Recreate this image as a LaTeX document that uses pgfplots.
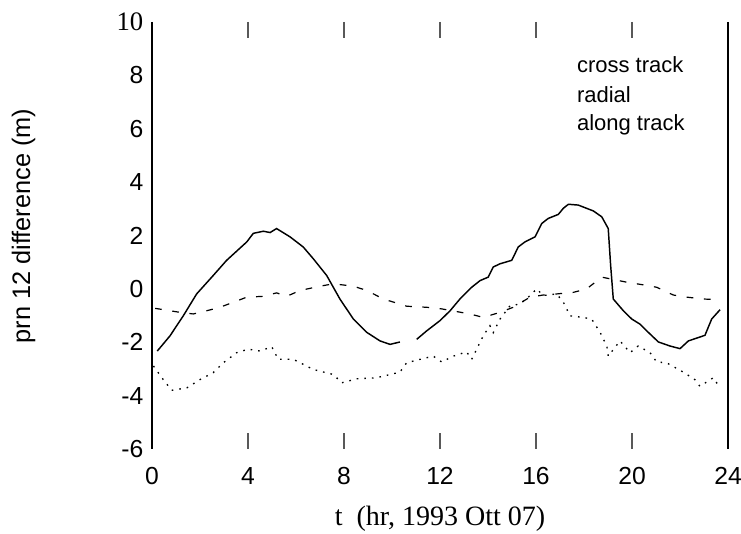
\documentclass[border=0pt]{standalone}
\usepackage{fontspec}
\setmainfont{Liberation Sans}
\newfontfamily\serif{Liberation Serif}
\usepackage{pgfplots}
\pgfplotsset{compat=1.18}

\begin{document}
\begin{tikzpicture}
\useasboundingbox (-114pt,-63.75pt) rectangle (441.75pt,336.75pt);
\begin{axis}[
  at={(0,0)}, anchor=south west,
  scale only axis, width=432pt, height=320.25pt,
  xmin=0, xmax=24, ymin=-6, ymax=10,
  xtick={0,4,...,24}, ytick={-6,-4,...,10},
  yticklabels={-6,-4,-2,0,2,4,6,8,{\serif\fontsize{20}{22}\selectfont 10}},
  separate axis lines,
  x axis line style={draw=none},
  y axis line style={black, line width=0.9pt},
  tick align=inside, major tick length=12pt,
  xtick pos=both, ytick pos=left,
  xtick style={gray!70!black, line width=0.8pt},
  ytick style={draw=none},
  tick label style={font=\fontsize{18.5}{20}\selectfont},
  /pgf/number format/assume math mode=true,
  xticklabel style={yshift=-10pt},
  yticklabel style={xshift=-3pt},
  xlabel={\serif\fontsize{21}{23}\selectfont t\ \ (hr, 1993 Ott 07)},
  xlabel style={yshift=-9pt},
  ylabel={\fontsize{19}{21}\selectfont prn 12 difference (m)},
  ylabel style={yshift=54pt, xshift=7pt},
  clip=false,
]
% cross track (solid)
\addplot[black, line width=1.1pt] coordinates {
(0.22,-2.33) (0.75,-1.76) (1.31,-1.0) (1.86,-0.19) (2.55,0.5) (3.11,1.07)
(3.95,1.76) (4.22,2.08) (4.64,2.16) (4.92,2.11) (5.19,2.26) (5.75,1.95)
(6.3,1.57) (6.72,1.13) (7.28,0.5) (7.83,-0.38) (8.39,-1.13) (8.95,-1.63)
(9.5,-1.95) (9.92,-2.08) (10.33,-1.99)
};
\addplot[black, line width=1.1pt] coordinates {
(11.03,-1.89) (11.45,-1.57) (12.0,-1.19) (12.42,-0.82) (12.83,-0.38)
(13.32,0.06) (13.67,0.31) (14.01,0.44) (14.22,0.82) (14.5,0.94) (14.99,1.07)
(15.26,1.57) (15.54,1.76) (15.96,1.95) (16.24,2.45) (16.51,2.64) (16.93,2.79)
(17.14,3.02) (17.35,3.17) (17.76,3.14) (18.39,2.92) (18.74,2.7) (19.01,2.26)
(19.11,0.88) (19.22,-0.38) (19.64,-0.82) (19.99,-1.13) (20.33,-1.32)
(20.68,-1.63) (21.1,-1.99) (21.58,-2.14) (22.0,-2.24) (22.35,-1.95)
(23.04,-1.74) (23.32,-1.13) (23.67,-0.78)
};
% radial (dashed)
\addplot[black, line width=0.9pt, dash pattern=on 5pt off 8pt] coordinates {
(0.13,-0.73) (1.17,-0.88) (1.72,-0.94) (2.28,-0.82) (2.83,-0.69) (3.39,-0.5)
(3.95,-0.31) (4.64,-0.28) (5.19,-0.15) (5.61,-0.28) (6.17,-0.06) (7.0,0.1)
(7.56,0.19) (8.39,0.1) (8.95,-0.06) (9.64,-0.38) (10.33,-0.57) (10.61,-0.65)
(11.45,-0.69) (12.07,-0.75) (13.25,-0.94) (13.8,-1.07) (14.5,-0.88)
(15.05,-0.69) (15.75,-0.31) (16.3,-0.23) (16.86,-0.19) (17.56,-0.13)
(18.11,0.0) (18.74,0.44) (19.78,0.25) (20.47,0.15) (21.03,0.06)
(21.72,-0.23) (22.28,-0.31) (22.97,-0.38) (23.53,-0.4)
};
% along track (dotted)
\addplot[black, line width=1pt, dash pattern=on 1.2pt off 4.5pt] coordinates {
(0.06,-2.89) (0.47,-3.4) (0.82,-3.8) (1.45,-3.71) (2.0,-3.4) (2.55,-3.14)
(2.97,-2.77) (3.53,-2.39) (4.01,-2.26) (4.5,-2.33) (4.99,-2.17) (5.26,-2.64)
(5.89,-2.64) (6.72,-3.02) (7.56,-3.21) (7.9,-3.52) (8.53,-3.37) (9.36,-3.33)
(10.33,-3.12) (10.61,-2.77) (11.17,-2.64) (11.72,-2.52) (12.07,-2.74)
(12.56,-2.52) (13.11,-2.36) (13.32,-2.64) (13.8,-1.76) (14.08,-1.38)
(14.22,-1.64) (14.5,-1.13) (14.92,-0.63) (15.33,-0.57) (15.68,-0.31)
(16.03,0.0) (16.3,-0.25) (16.86,-0.19) (17.14,-0.5) (17.42,-1.01)
(17.97,-1.07) (18.32,-1.13) (18.67,-1.63) (18.95,-2.14) (19.01,-2.52)
(19.5,-1.95) (19.92,-2.39) (20.26,-2.14) (20.75,-2.39) (21.03,-2.74)
(21.44,-2.77) (22.14,-3.12) (22.62,-3.4) (22.83,-3.65) (23.39,-3.33)
(23.6,-3.62)
};
\draw[black, line width=0.9pt] (rel axis cs:1,0) -- (rel axis cs:1,1);
\node[anchor=base west, inner sep=0pt, font=\fontsize{16.5}{18}\selectfont] at (axis cs:17.7,8.1) {cross track};
\node[anchor=base west, inner sep=0pt, font=\fontsize{16.5}{18}\selectfont] at (axis cs:17.7,7.0) {radial};
\node[anchor=base west, inner sep=0pt, font=\fontsize{16.5}{18}\selectfont] at (axis cs:17.7,5.95) {along track};
\end{axis}
\end{tikzpicture}
\end{document}
